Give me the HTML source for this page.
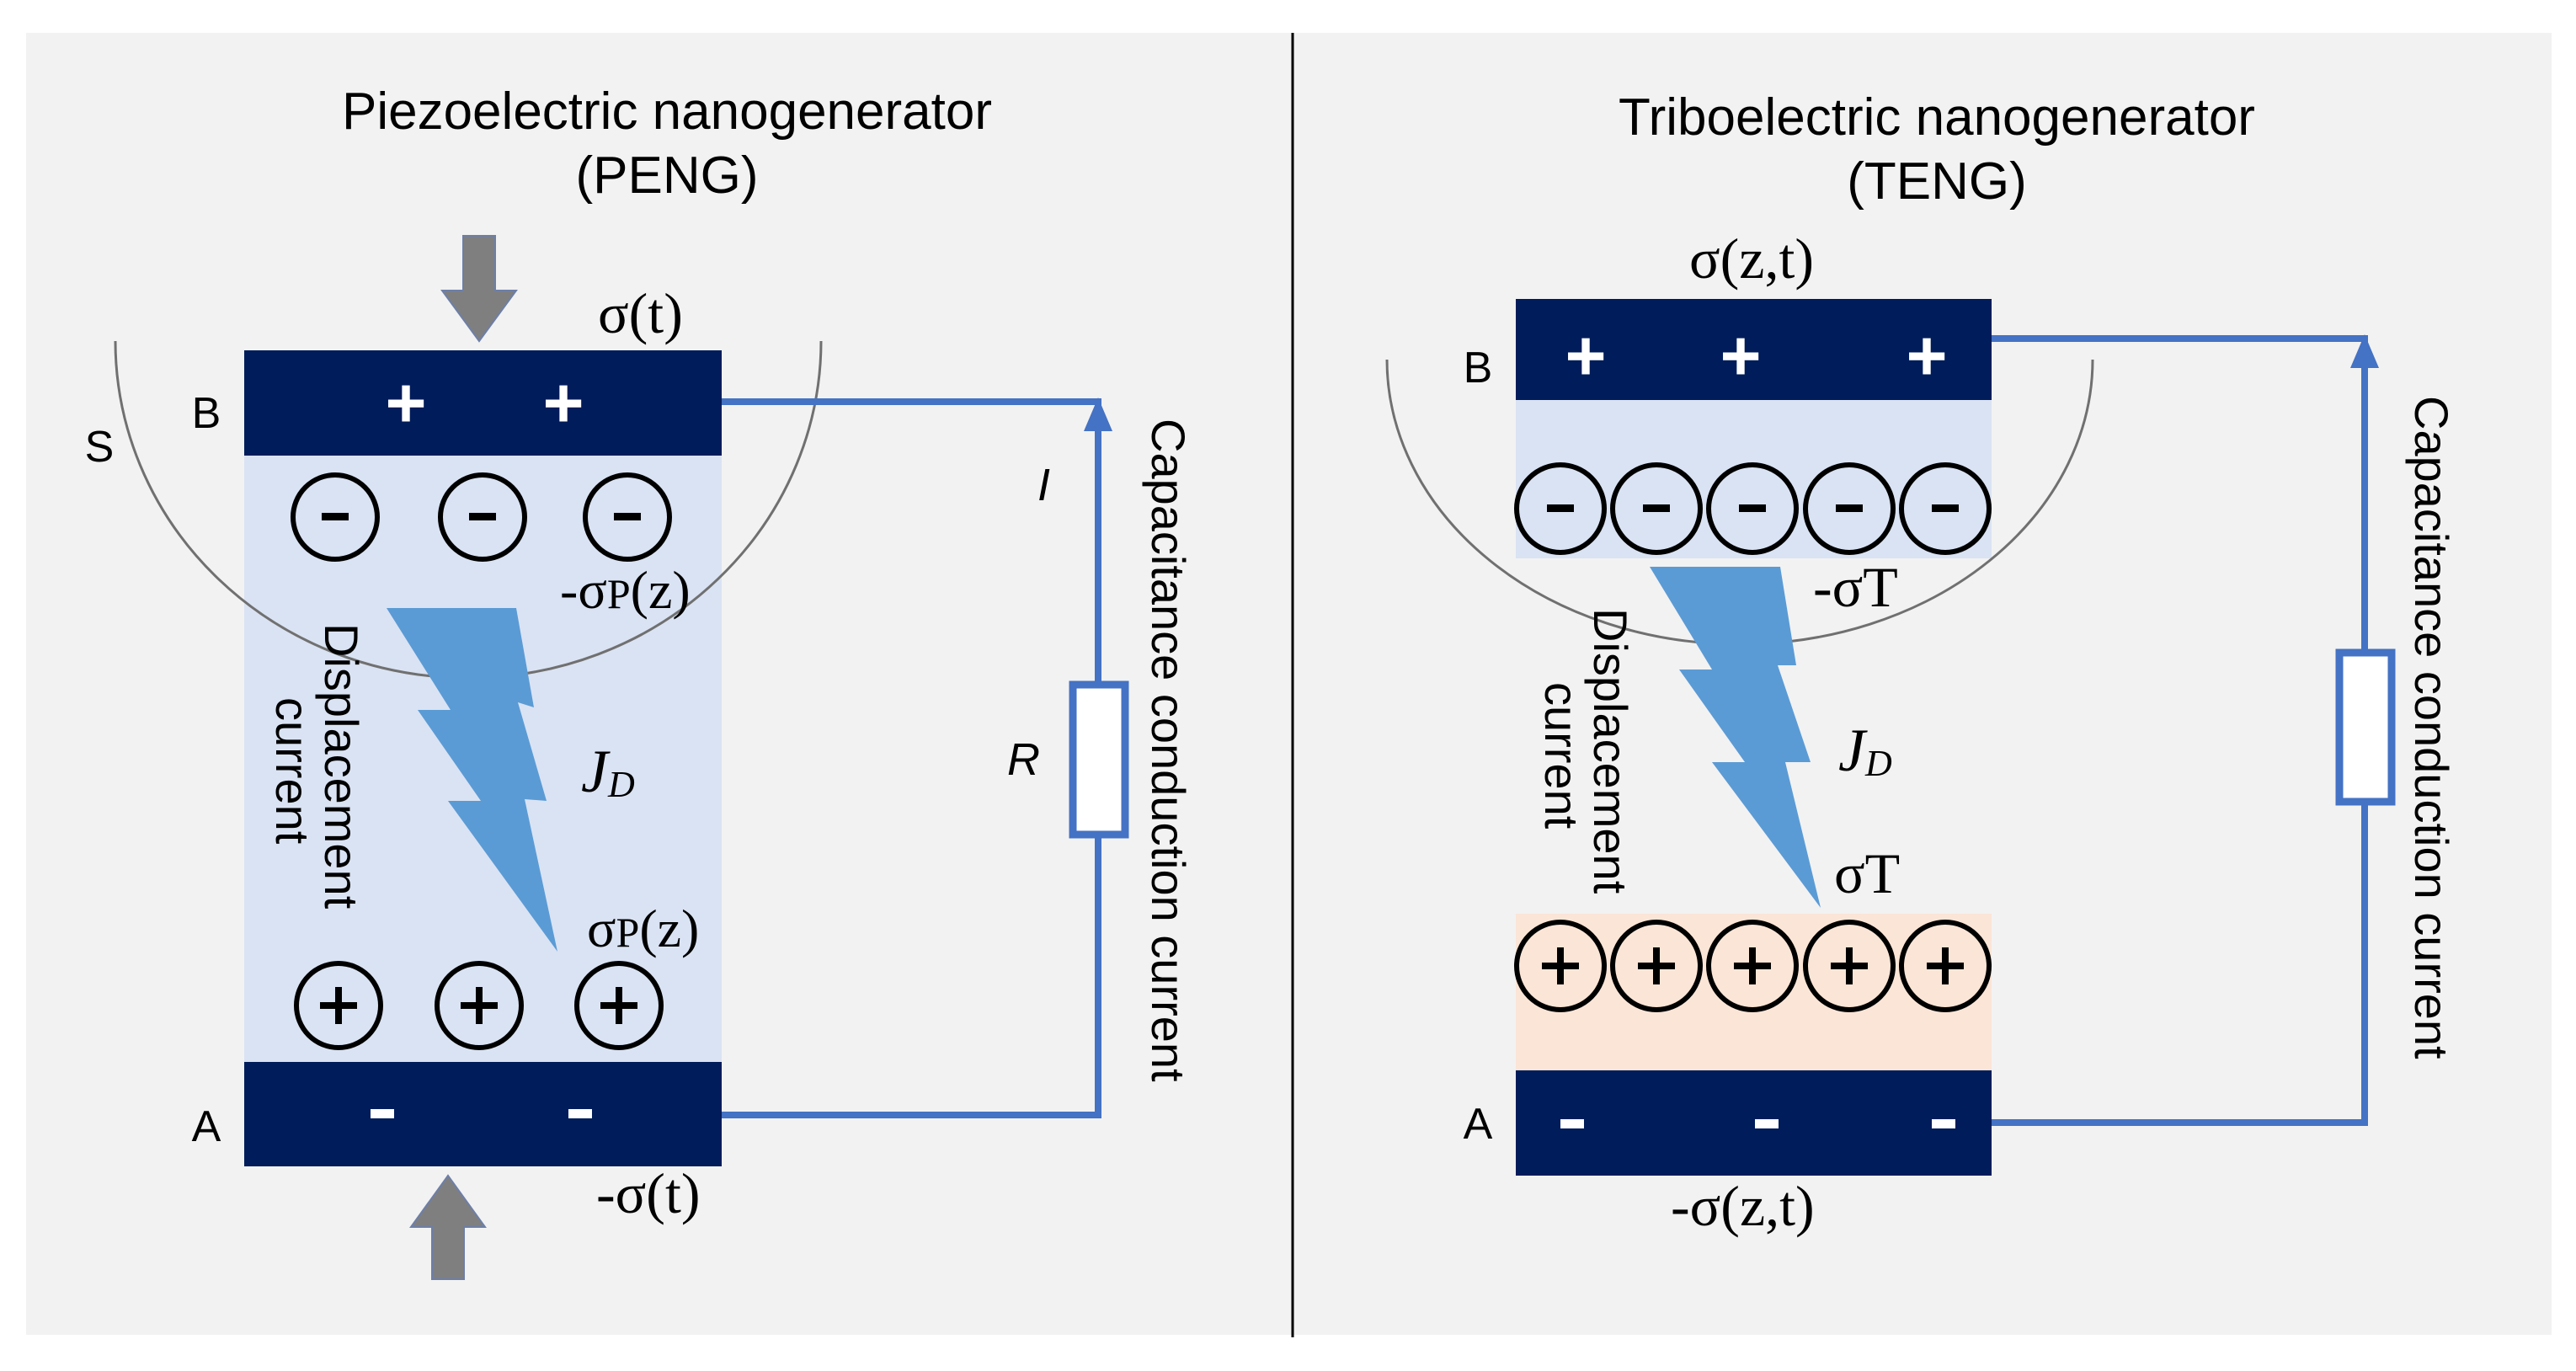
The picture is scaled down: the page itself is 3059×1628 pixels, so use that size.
<!DOCTYPE html>
<html><head><meta charset="utf-8"><style>
html,body{margin:0;padding:0;background:#fff}
svg{display:block}
.s{font-family:"Liberation Sans",sans-serif}
.r{font-family:"Liberation Serif",serif}
</style></head><body>
<svg width="3059" height="1628" viewBox="0 0 3059 1628" xmlns="http://www.w3.org/2000/svg">
<rect x="31" y="39" width="2999" height="1546" fill="#f2f2f2"/>
<line x1="1535" y1="39" x2="1535" y2="1588" stroke="#000" stroke-width="3"/>

<!-- LEFT PANEL -->
<text class="s" x="792" y="153" font-size="62" text-anchor="middle" fill="#000">Piezoelectric nanogenerator</text>
<text class="s" x="792" y="229" font-size="62" text-anchor="middle" fill="#000">(PENG)</text>
<polygon points="550,280 588,280 588,345 613,345 569,405 525,345 550,345" fill="#7f7f7f" stroke="#6d7fa8" stroke-width="2"/>
<polygon points="513,1519 551,1519 551,1457 576,1457 532,1396 488,1457 513,1457" fill="#7f7f7f" stroke="#6d7fa8" stroke-width="2"/>
<text class="r" x="710" y="395" font-size="68">σ(t)</text>
<rect x="290" y="541" width="567" height="720" fill="#dae3f3"/>
<rect x="290" y="416" width="567" height="125" fill="#001c5a"/>
<rect x="290" y="1261" width="567" height="124" fill="#001c5a"/>
<text class="s" x="482" y="507" font-size="84" font-weight="bold" fill="#fff" text-anchor="middle">+</text>
<text class="s" x="669" y="507" font-size="84" font-weight="bold" fill="#fff" text-anchor="middle">+</text>
<rect x="440" y="1317" width="28" height="11" fill="#fff"/>
<rect x="675" y="1317" width="28" height="11" fill="#fff"/>
<text class="s" x="245" y="508" font-size="52" text-anchor="middle">B</text>
<text class="s" x="245" y="1355" font-size="52" text-anchor="middle">A</text>
<text class="s" x="118" y="548" font-size="52" text-anchor="middle">S</text>
<g fill="none" stroke="#000" stroke-width="6">
<circle cx="398" cy="614" r="50"/><circle cx="573" cy="614" r="50"/><circle cx="745" cy="614" r="50"/>
<circle cx="402" cy="1194" r="50"/><circle cx="569" cy="1194" r="50"/><circle cx="735" cy="1194" r="50"/>
</g>
<g fill="#000">
<rect x="382" y="609" width="32" height="9"/><rect x="557" y="609" width="32" height="9"/><rect x="729" y="609" width="32" height="9"/>
<rect x="380" y="1190" width="44" height="8"/><rect x="398" y="1172" width="8" height="44"/>
<rect x="547" y="1190" width="44" height="8"/><rect x="565" y="1172" width="8" height="44"/>
<rect x="713" y="1190" width="44" height="8"/><rect x="731" y="1172" width="8" height="44"/>
</g>
<path d="M137,405 A419,400 0 0 0 975,405" fill="none" stroke="#707070" stroke-width="3"/>
<polygon points="459,722 613,722 634,840 615,834 649,951 623,949 662,1130 532,951 571,951 496,843 535,843" fill="#5b9bd5"/>
<g transform="translate(386,740) rotate(90)"><text class="s" x="0" y="0" font-size="56">Displacement</text></g>
<g transform="translate(328,828) rotate(90)"><text class="s" x="0" y="0" font-size="56">current</text></g>
<text class="r" x="690" y="940" font-size="72" font-style="italic">J<tspan font-size="44" dy="6">D</tspan></text>
<text class="r" x="665" y="722" font-size="64">-σ<tspan font-size="50">P</tspan>(z)</text>
<text class="r" x="697" y="1124" font-size="64">σ<tspan font-size="50">P</tspan>(z)</text>
<text class="r" x="708" y="1440" font-size="68">-σ(t)</text>
<polyline points="857,477 1304,477 1304,1324 857,1324" fill="none" stroke="#4472c4" stroke-width="8"/>
<polygon points="1304,472 1287,512 1321,512" fill="#4472c4"/>
<rect x="1274" y="813" width="62" height="178" fill="#fff" stroke="#4472c4" stroke-width="9"/>
<text class="s" x="1232" y="594" font-size="54" font-style="italic">I</text>
<text class="s" x="1196" y="920" font-size="54" font-style="italic">R</text>
<g transform="translate(1368,497) rotate(90)"><text class="s" x="0" y="0" font-size="56">Capacitance conduction current</text></g>

<!-- RIGHT PANEL -->
<text class="s" x="2300" y="160" font-size="62" text-anchor="middle">Triboelectric nanogenerator</text>
<text class="s" x="2300" y="236" font-size="62" text-anchor="middle">(TENG)</text>
<text class="r" x="2006" y="330" font-size="68">σ(z,t)</text>
<rect x="1800" y="475" width="565" height="188" fill="#dae3f3"/>
<rect x="1800" y="1085" width="565" height="186" fill="#fbe5d6"/>
<rect x="1800" y="355" width="565" height="120" fill="#001c5a"/>
<rect x="1800" y="1271" width="565" height="125" fill="#001c5a"/>
<text class="s" x="1883" y="451" font-size="84" font-weight="bold" fill="#fff" text-anchor="middle">+</text>
<text class="s" x="2067" y="451" font-size="84" font-weight="bold" fill="#fff" text-anchor="middle">+</text>
<text class="s" x="2288" y="451" font-size="84" font-weight="bold" fill="#fff" text-anchor="middle">+</text>
<rect x="1853" y="1329" width="28" height="11" fill="#fff"/>
<rect x="2084" y="1329" width="28" height="11" fill="#fff"/>
<rect x="2294" y="1329" width="28" height="11" fill="#fff"/>
<text class="s" x="1755" y="454" font-size="52" text-anchor="middle">B</text>
<text class="s" x="1755" y="1352" font-size="52" text-anchor="middle">A</text>
<g fill="none" stroke="#000" stroke-width="6">
<circle cx="1853" cy="604" r="52"/><circle cx="1967" cy="604" r="52"/><circle cx="2081" cy="604" r="52"/><circle cx="2196" cy="604" r="52"/><circle cx="2310" cy="604" r="52"/>
<circle cx="1853" cy="1147" r="52"/><circle cx="1967" cy="1147" r="52"/><circle cx="2081" cy="1147" r="52"/><circle cx="2196" cy="1147" r="52"/><circle cx="2310" cy="1147" r="52"/>
</g>
<g fill="#000">
<rect x="1837" y="599" width="32" height="9"/><rect x="1951" y="599" width="32" height="9"/><rect x="2065" y="599" width="32" height="9"/><rect x="2180" y="599" width="32" height="9"/><rect x="2294" y="599" width="32" height="9"/>
<rect x="1831" y="1143" width="44" height="8"/><rect x="1849" y="1125" width="8" height="44"/>
<rect x="1945" y="1143" width="44" height="8"/><rect x="1963" y="1125" width="8" height="44"/>
<rect x="2059" y="1143" width="44" height="8"/><rect x="2077" y="1125" width="8" height="44"/>
<rect x="2174" y="1143" width="44" height="8"/><rect x="2192" y="1125" width="8" height="44"/>
<rect x="2288" y="1143" width="44" height="8"/><rect x="2306" y="1125" width="8" height="44"/>
</g>
<path d="M1647,427 A419,338 0 0 0 2485,427" fill="none" stroke="#707070" stroke-width="3"/>
<polygon points="1959,673 2114,673 2133,790 2111,790 2150,905 2120,905 2162,1078 2033,905 2072,905 1994,795 2033,795" fill="#5b9bd5"/>
<g transform="translate(1893,722) rotate(90)"><text class="s" x="0" y="0" font-size="56">Displacement</text></g>
<g transform="translate(1835,810) rotate(90)"><text class="s" x="0" y="0" font-size="56">current</text></g>
<text class="r" x="2183" y="915" font-size="72" font-style="italic">J<tspan font-size="44" dy="6">D</tspan></text>
<text class="r" x="2153" y="720" font-size="68">-σT</text>
<text class="r" x="2178" y="1060" font-size="68">σT</text>
<text class="r" x="1984" y="1455" font-size="68">-σ(z,t)</text>
<polyline points="2365,402 2808,402 2808,1333 2365,1333" fill="none" stroke="#4472c4" stroke-width="8"/>
<polygon points="2808,397 2791,437 2825,437" fill="#4472c4"/>
<rect x="2778" y="775" width="62" height="177" fill="#fff" stroke="#4472c4" stroke-width="9"/>
<g transform="translate(2868,470) rotate(90)"><text class="s" x="0" y="0" font-size="56">Capacitance conduction current</text></g>
</svg>
</body></html>
